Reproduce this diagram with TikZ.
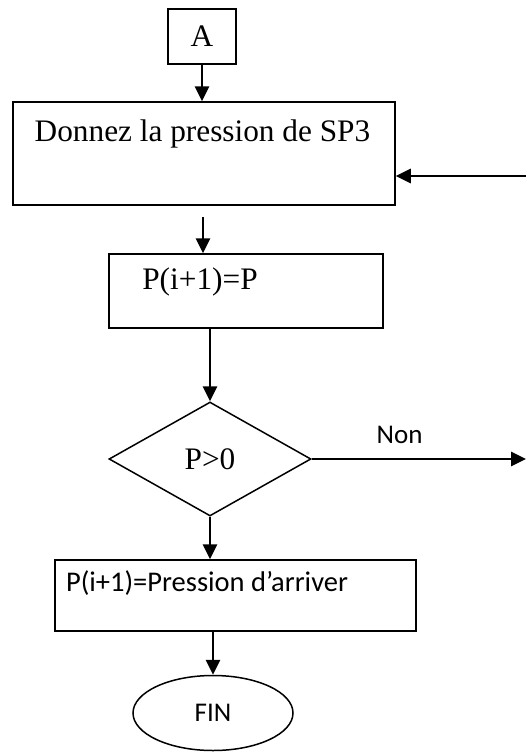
\documentclass[tikz,border=0pt]{standalone}
\usepackage{fontspec}
\setmainfont{Liberation Serif}
\newfontfamily\calibri{Carlito}
\usetikzlibrary{positioning, shapes.geometric, arrows.meta}

\begin{document}
\begin{tikzpicture}[x=1pt, y=-1pt, >={Triangle[length=15pt, width=14pt]},
    boite/.style={draw, line width=1.5pt, inner sep=0pt},
    fleche/.style={->, line width=2.8pt},
    serif/.style={font=\fontsize{31.3}{37}\selectfont, inner sep=0pt},
    sans/.style={font=\calibri\fontsize{27}{32}\selectfont, inner sep=0pt}]

    \useasboundingbox (0,0) rectangle (526,752);

    % Définition des blocs
    \node[boite, serif, minimum width=68, minimum height=55] (A) at (202,36.5) {A};
    \node[boite, minimum width=382, minimum height=103] (sp3) at (204,153.5) {};
    \node[serif] (sp3txt) at (202.5,134) {Donnez la pression de SP3};
    \node[boite, minimum width=274, minimum height=74] (pi) at (246,291) {};
    \node[serif] (pitxt) at (200,282) {P(i+1)=P};
    \node[boite, diamond, serif, minimum width=202, minimum height=114] (test) at (210,459) {P>0};
    \node[boite, minimum width=361, minimum height=71] (bas) at (235.5,595.5) {};
    \node[sans, font=\calibri\fontsize{28.5}{34}\selectfont] (bastxt) at (207,583) {P(i+1)=Pression d’arriver};
    \node[boite, ellipse, sans, minimum width=160, minimum height=75] (fin) at (213,713) {FIN};

    % Points libres
    \coordinate (retour) at (526,176);
    \coordinate (depart) at (203,217);
    \coordinate (sortie) at (526,459);

    % Définition des flèches
    \draw[fleche] (A.south) -- (A.south |- sp3.north);
    \draw[fleche] (retour) -- (retour -| sp3.east);
    \draw[fleche] (depart) -- (depart |- pi.north);
    \draw[fleche] (pi.south -| test.north) -- (test.north);
    \draw[fleche] (test.east) -- node[sans, pos=0.41, above=14pt] (nontxt) {Non} (sortie);
    \draw[fleche] (test.south) -- (test.south |- bas.north);
    \draw[fleche] (bas.south -| fin.north) -- (fin.north);

\end{tikzpicture}
\end{document}
